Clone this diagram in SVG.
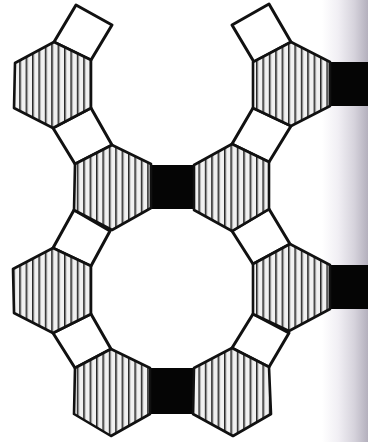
<svg xmlns="http://www.w3.org/2000/svg" width="368" height="442" viewBox="0 0 368 442">
<style>
.hex{fill:url(#hatch);stroke:#111;stroke-width:2.6;stroke-linejoin:round}
.sq{fill:#fff;stroke:#111;stroke-width:3;stroke-linejoin:round}
.blk{fill:#050505}
</style>
<defs>
<pattern id="hatch" patternUnits="userSpaceOnUse" width="6.4" height="10">
<rect width="6.4" height="10" fill="#f1f1f1"/>
<rect x="0" width="1.6" height="10" fill="#262626"/>
<rect x="1.6" width="0.8" height="10" fill="#b0b0b0"/>
</pattern>
<linearGradient id="band" x1="0" x2="1" y1="0" y2="0">
<stop offset="0" stop-color="#fff"/>
<stop offset="0.35" stop-color="#f1eff4"/>
<stop offset="0.7" stop-color="#d6d3dc"/>
<stop offset="1" stop-color="#b4b0bd"/>
</linearGradient>
</defs>
<rect width="368" height="442" fill="#fff"/>
<rect x="322" y="0" width="46" height="442" fill="url(#band)"/>
<g id="links">
<rect class="blk" x="150" y="165" width="45" height="44"/>
<rect class="blk" x="150" y="368" width="45" height="46"/>
<rect class="blk" x="329" y="62" width="39" height="44"/>
<rect class="blk" x="329" y="265" width="39" height="44"/>
</g>
<g id="square-1"><polygon class="sq" points="76,5 112,25 91,60 54,42"/></g>
<g id="square-2"><polygon class="sq" points="91,108 112,145 75,164 53,128"/></g>
<g id="square-3"><polygon class="sq" points="74,210 110,231 91,266 53,248"/></g>
<g id="square-4"><polygon class="sq" points="91,314 111,349 75,368 53,333"/></g>
<g id="square-5"><polygon class="sq" points="232,25 269,4 291,42 254,62"/></g>
<g id="square-6"><polygon class="sq" points="232,144 253,108 291,126 269,162"/></g>
<g id="square-7"><polygon class="sq" points="232,231 269,209 290,244 253,264"/></g>
<g id="square-8"><polygon class="sq" points="232,348 253,314 289,333 269,367"/></g>
<g id="hex-1"><polygon class="hex" points="54,42 91,60 91,108 53,128 14,108 15,63"/></g>
<g id="hex-2"><polygon class="hex" points="112,145 151,164 151,208 112,230 74,210 75,164"/></g>
<g id="hex-3"><polygon class="hex" points="53,248 91,266 91,314 53,333 14,313 13,269"/></g>
<g id="hex-4"><polygon class="hex" points="111,349 150,368 150,414 111,436 74,414 75,368"/></g>
<g id="hex-5"><polygon class="hex" points="291,42 330,62 330,106 291,126 253,108 253,62"/></g>
<g id="hex-6"><polygon class="hex" points="232,144 269,162 269,209 232,231 194,210 194,165"/></g>
<g id="hex-7"><polygon class="hex" points="290,244 330,265 330,309 289,331 253,314 253,264"/></g>
<g id="hex-8"><polygon class="hex" points="232,348 269,367 271,414 233,436 193,414 194,368"/></g>
</svg>
